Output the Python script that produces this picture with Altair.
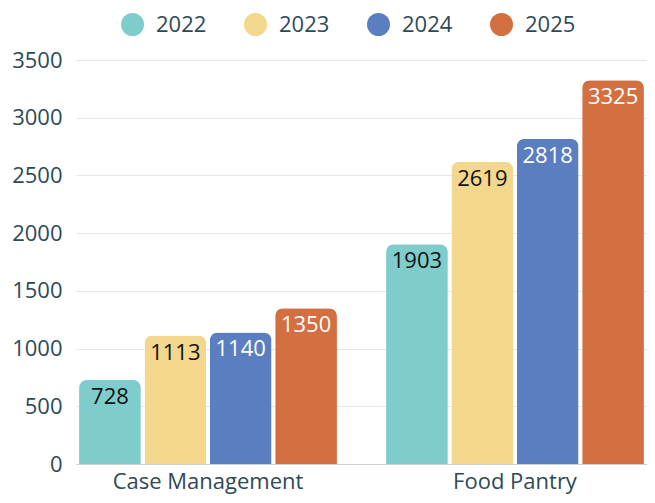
import altair as alt
import pandas as pd

categories = ["Case Management", "Food Pantry"]
years = ["2022", "2023", "2024", "2025"]
case_management = [728, 1113, 1140, 1350]
food_pantry = [1903, 2619, 2818, 3325]
colors = ["#7ecdcc", "#f3d78d", "#5b7ec0", "#d37041"]
label_colors = ["#111111", "#111111", "#ffffff", "#ffffff"]

rows = []
for cat, vals in zip(categories, [case_management, food_pantry]):
    for y, v, lc in zip(years, vals, label_colors):
        rows.append({"program": cat, "year": y, "value": v, "lc": lc})
df = pd.DataFrame(rows)

FONT = "Open Sans"
TXT = "#2e4a57"

base = alt.Chart(df).encode(
    x=alt.X(
        "program:N",
        sort=categories,
        scale=alt.Scale(paddingInner=0.16, paddingOuter=0.01),
        axis=alt.Axis(
            title=None, labelAngle=0, ticks=False, domain=True,
            domainColor="#c8d0d4", labelPadding=7, labelFontSize=22,
            labelColor=TXT, labelFont=FONT, grid=False, labelLimit=0,
        ),
    ),
    xOffset=alt.XOffset("year:N", sort=years, scale=alt.Scale(paddingInner=0.055)),
    y=alt.Y(
        "value:Q",
        scale=alt.Scale(domain=[0, 3500], nice=False),
        axis=alt.Axis(
            title=None, values=[0, 500, 1000, 1500, 2000, 2500, 3000, 3500],
            format="d", ticks=False, domain=False, labelPadding=14,
            labelFontSize=22, labelColor=TXT, labelFont=FONT,
            gridColor="#e3e6e8",
        ),
    ),
)

bars = base.mark_bar(cornerRadiusTopLeft=8, cornerRadiusTopRight=8).encode(
    color=alt.Color(
        "year:N",
        scale=alt.Scale(domain=years, range=colors),
        legend=alt.Legend(
            title=None, orient="none", legendX=45, legendY=-47,
            direction="horizontal", symbolType="circle", symbolSize=529,
            symbolStrokeWidth=0, labelFontSize=22, labelFont=FONT,
            labelColor=TXT, labelOffset=12, columnPadding=37, padding=0,
            labelLimit=0,
        ),
    )
)

text = base.mark_text(baseline="middle", dy=17, fontSize=22, font=FONT).encode(
    text=alt.Text("value:Q"),
    color=alt.Color("lc:N", scale=None, legend=None),
)

chart = (
    alt.layer(bars, text)
    .resolve_scale(color="independent")
    .properties(
        width=571,
        height=404,
        autosize=alt.AutoSizeParams(type="none"),
        padding={"left": 68, "top": 52, "right": 0, "bottom": 31},
    )
    .configure_view(stroke=None)
)

chart.save("out.html", embed_options={"renderer": "svg", "actions": False})
